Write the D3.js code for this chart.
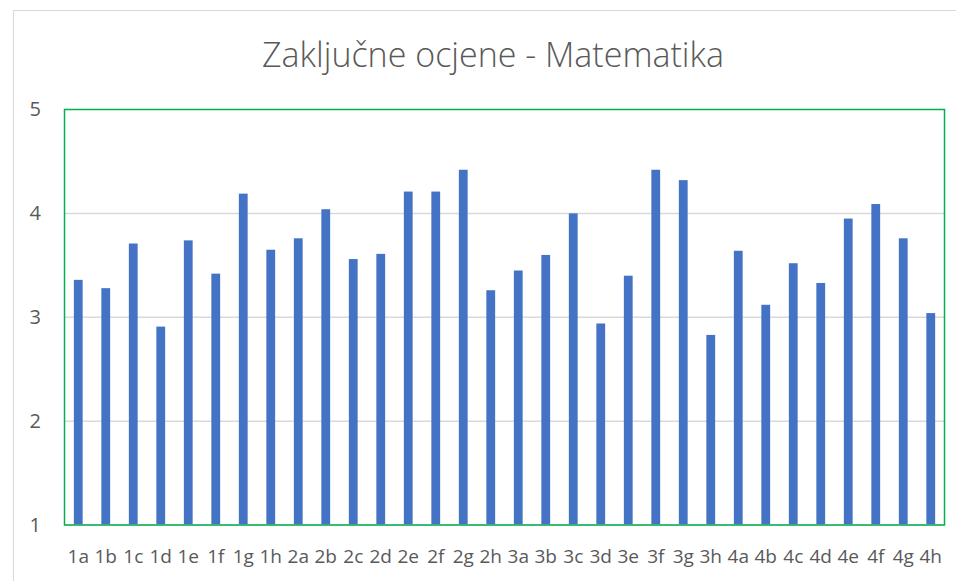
<!DOCTYPE html>
<html>
<head>
<meta charset="utf-8">
<script src="https://cdn.jsdelivr.net/npm/d3@7"></script>
<style>
  html, body { margin: 0; padding: 0; background: #fff; }
  svg { display: block; font-family: "Open Sans", "Noto Sans", sans-serif; }
</style>
</head>
<body>
<div id="chart"></div>
<script>
// razredi i prosječne zaključne ocjene
const classes = ["1a","1b","1c","1d","1e","1f","1g","1h","2a","2b","2c","2d","2e","2f","2g","2h",
                 "3a","3b","3c","3d","3e","3f","3g","3h","4a","4b","4c","4d","4e","4f","4g","4h"];
const grades = [3.36, 3.28, 3.71, 2.91, 3.74, 3.42, 4.19, 3.65, 3.76, 4.04, 3.56, 3.61, 4.21, 4.21, 4.42, 3.26,
                3.45, 3.60, 4.00, 2.94, 3.40, 4.42, 4.32, 2.83, 3.64, 3.12, 3.52, 3.33, 3.95, 4.09, 3.76, 3.04];
const yTicks = [1, 2, 3, 4, 5];
const title = "Zaključne ocjene - Matematika";

const width = 956, height = 581;
const plot = { left: 64.5, top: 109.5, right: 944.5, bottom: 525 };
const textColor = "#595959";

const svg = d3.select("#chart").append("svg")
  .attr("width", width)
  .attr("height", height);

// okvir grafikona
svg.append("rect")
  .attr("x", 13.5).attr("y", 10.5)
  .attr("width", width + 20).attr("height", height + 20)
  .attr("fill", "#fff")
  .attr("stroke", "#d9d9d9")
  .attr("stroke-width", 1);

svg.append("text")
  .attr("x", 493)
  .attr("y", 67)
  .attr("text-anchor", "middle")
  .attr("fill", textColor)
  .attr("font-size", "34px")
  .attr("font-weight", 300)
  .text(title);

const x = d3.scaleBand()
  .domain(classes)
  .range([plot.left, plot.right])
  .paddingInner(0.68)
  .paddingOuter(0.34);

const y = d3.scaleLinear()
  .domain([1, 5])
  .range([plot.bottom, plot.top]);

// mreža
svg.append("g")
  .selectAll("line")
  .data(yTicks.slice(1, -1))
  .join("line")
  .attr("x1", plot.left).attr("x2", plot.right)
  .attr("y1", d => y(d)).attr("y2", d => y(d))
  .attr("stroke", "#d9d9d9")
  .attr("stroke-width", 1.5);

// stupci
svg.append("g")
  .selectAll("rect")
  .data(grades)
  .join("rect")
  .attr("x", (d, i) => x(classes[i]))
  .attr("width", x.bandwidth())
  .attr("y", d => y(d))
  .attr("height", d => y(1) - y(d))
  .attr("fill", "#4472c4");

// osi
const yAxis = d3.axisLeft(y).tickValues(yTicks).tickFormat(d3.format("d")).tickSize(0).tickPadding(23.5);
svg.append("g")
  .attr("transform", `translate(${plot.left},0)`)
  .call(yAxis)
  .attr("font-family", null)
  .attr("font-size", null)
  .call(g => g.select(".domain").remove())
  .call(g => g.selectAll("text").attr("fill", textColor).attr("font-size", "20px"));

const xAxis = d3.axisBottom(x).tickSize(0).tickPadding(24.5);
svg.append("g")
  .attr("transform", `translate(0,${plot.bottom})`)
  .call(xAxis)
  .attr("font-family", null)
  .attr("font-size", null)
  .call(g => g.select(".domain").remove())
  .call(g => g.selectAll("text").attr("fill", textColor).attr("font-size", "19px"));

svg.append("line")
  .attr("x1", plot.left).attr("x2", plot.right)
  .attr("y1", plot.bottom).attr("y2", plot.bottom)
  .attr("stroke", "#d9d9d9")
  .attr("stroke-width", 1.5);

// zeleni okvir područja crtanja
svg.append("rect")
  .attr("x", plot.left).attr("y", plot.top)
  .attr("width", plot.right - plot.left)
  .attr("height", plot.bottom - plot.top)
  .attr("fill", "none")
  .attr("stroke", "#00b050")
  .attr("stroke-width", 1.5);
</script>
</body>
</html>
